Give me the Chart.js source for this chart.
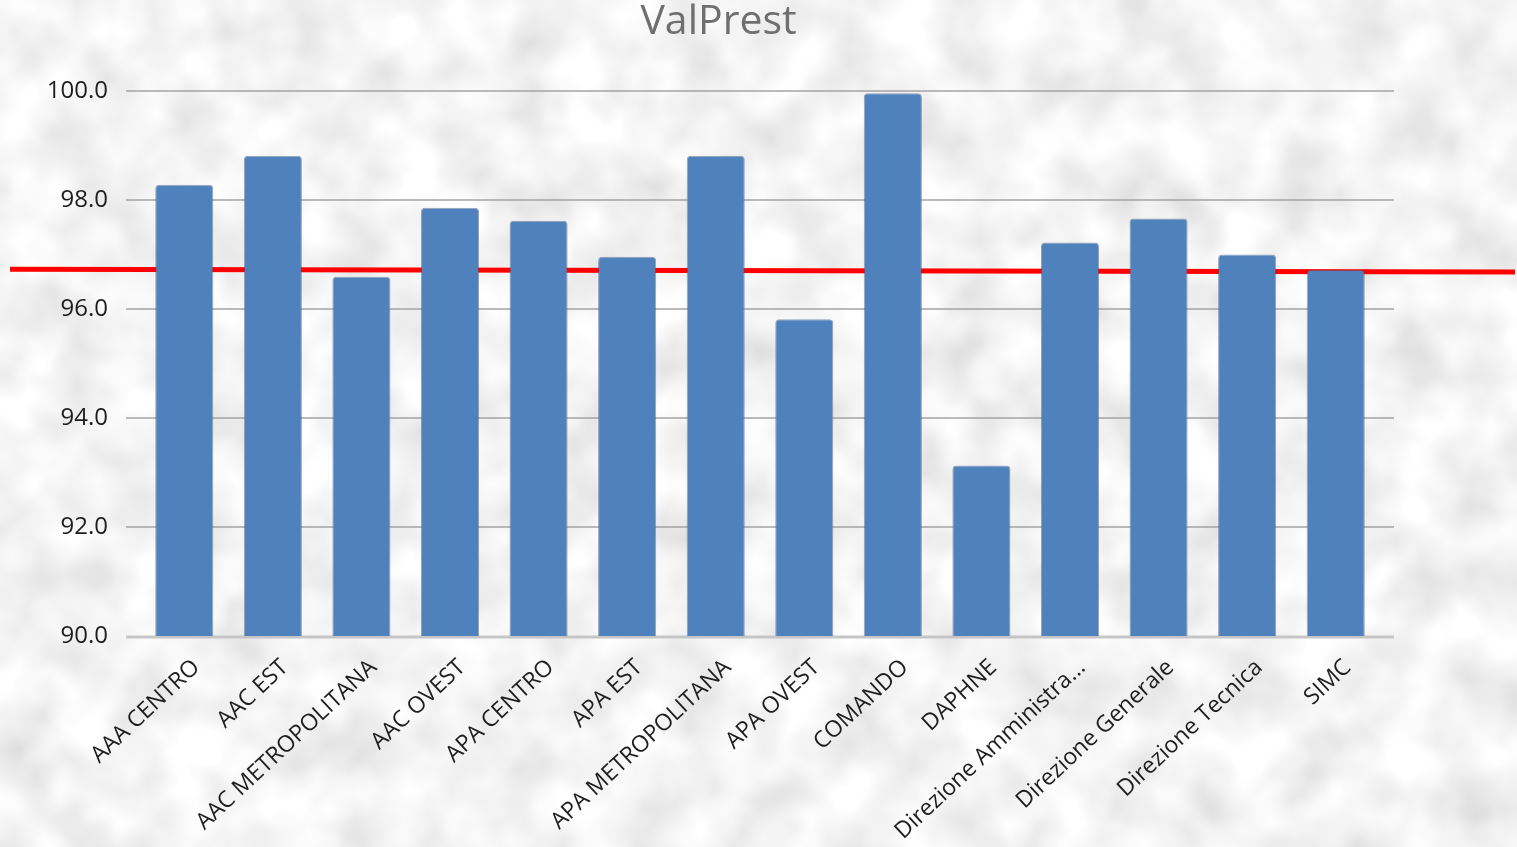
<!DOCTYPE html>
<html>
<head>
<meta charset="utf-8">
<title>ValPrest</title>
<script src="https://cdn.jsdelivr.net/npm/chart.js@4/dist/chart.umd.min.js"></script>
<style>
  html, body { margin: 0; padding: 0; }
  body {
    width: 1517px; height: 847px; overflow: hidden;
    background-color: #e8e8e8;
    background-image: url("data:image/svg+xml;utf8,<svg xmlns='http://www.w3.org/2000/svg' width='1517' height='847'><filter id='n' x='0' y='0' width='100%25' height='100%25'><feTurbulence type='fractalNoise' baseFrequency='0.018' numOctaves='3' seed='7'/><feGaussianBlur stdDeviation='3'/><feColorMatrix type='matrix' values='0.45 0 0 0 0.68  0.45 0 0 0 0.68  0.45 0 0 0 0.68  0 0 0 0 1'/></filter><rect width='100%25' height='100%25' filter='url(%23n)'/></svg>");
  }
  #wrap { position: relative; width: 1517px; height: 847px; }
</style>
</head>
<body>
<div id="wrap"><canvas id="valprest-chart"></canvas></div>
<script>
  'use strict'

  // Dati del grafico
  var chartTitle = 'ValPrest'
  var categories = ['AAA CENTRO', 'AAC EST', 'AAC METROPOLITANA', 'AAC OVEST', 'APA CENTRO', 'APA EST',
    'APA METROPOLITANA', 'APA OVEST', 'COMANDO', 'DAPHNE', 'Direzione Amministra...',
    'Direzione Generale', 'Direzione Tecnica', 'SIMC']
  var valPrest = [98.28, 98.81, 96.59, 97.86, 97.62, 96.96, 98.81, 95.81, 99.96, 93.13, 97.22, 97.66, 97.0, 96.72]
  var yTicks = [90, 92, 94, 96, 98, 100]
  // linea rossa (media), leggermente inclinata come nell'originale
  var redLineStart = 96.73
  var redLineEnd = 96.68

  var fontFamily = '"Open Sans", "Liberation Sans", sans-serif'
  var gridOverhang = 14 // le griglie escono un po' oltre l'area delle barre

  // Griglie orizzontali + asse base, un po' piu' larghe dell'area del grafico
  var gridPlugin = {
    id: 'wideGrid',
    beforeDatasetsDraw: function (chart) {
      var ctx = chart.ctx
      var y = chart.scales.y
      var a = chart.chartArea
      ctx.save()
      yTicks.forEach(function (v, i) {
        var py = y.getPixelForValue(v)
        if (i === 0) {
          ctx.strokeStyle = '#c6c6c6'
          ctx.lineWidth = 3
          py += 1
        } else {
          ctx.strokeStyle = '#a3a3a3'
          ctx.lineWidth = 1.5
        }
        ctx.beginPath()
        ctx.moveTo(a.left - gridOverhang, py)
        ctx.lineTo(a.right + gridOverhang, py)
        ctx.stroke()
      })
      // linea rossa dietro le barre, larga quanto tutto il canvas
      ctx.strokeStyle = '#ff0000'
      ctx.lineWidth = 5
      ctx.beginPath()
      ctx.moveTo(10, y.getPixelForValue(redLineStart))
      ctx.lineTo(chart.width - 2, y.getPixelForValue(redLineEnd))
      ctx.stroke()
      ctx.restore()
    }
  }

  // Titolo disegnato a mano (un po' a sinistra del centro)
  var titlePlugin = {
    id: 'customTitle',
    afterDraw: function (chart) {
      var ctx = chart.ctx
      ctx.save()
      ctx.fillStyle = '#6f6f6f'
      ctx.font = '41px ' + fontFamily
      ctx.textAlign = 'center'
      ctx.textBaseline = 'middle'
      ctx.fillText(chartTitle, chart.width / 2 - 40, 22)
      ctx.restore()
    }
  }

  var ctx = document.getElementById('valprest-chart').getContext('2d')

  var valPrestChart = new Chart(ctx, {
    type: 'bar',
    data: {
      labels: categories,
      datasets: [{
        label: chartTitle,
        data: valPrest,
        backgroundColor: '#4f81bd',
        borderColor: 'rgba(70,90,120,0.55)',
        borderWidth: 1,
        borderSkipped: 'bottom',
        borderRadius: { topLeft: 4, topRight: 4 },
        barPercentage: 0.82,
        categoryPercentage: 0.8
      }]
    },
    options: {
      responsive: true,
      maintainAspectRatio: false,
      animation: false,
      layout: { padding: { top: 91, right: 137, left: 0, bottom: 0 } },
      plugins: {
        legend: { display: false },
        title: { display: false },
        tooltip: { enabled: false }
      },
      scales: {
        x: {
          grid: { display: false },
          border: { display: false },
          ticks: {
            color: '#1e1e1e',
            font: { family: fontFamily, size: 23 },
            maxRotation: 43,
            minRotation: 43,
            autoSkip: false,
            padding: 10,
            labelOffset: 12
          },
          afterFit: function (scale) { scale.height = 211 }
        },
        y: {
          min: yTicks[0],
          max: yTicks[yTicks.length - 1],
          afterBuildTicks: function (scale) {
            scale.ticks = yTicks.map(function (v) { return { value: v } })
          },
          grid: { display: false, drawTicks: false },
          border: { display: false },
          ticks: {
            color: '#1e1e1e',
            font: { family: fontFamily, size: 24 },
            padding: 32,
            callback: function (v) { return Number(v).toFixed(1) }
          },
          afterFit: function (scale) { scale.width = 140 }
        }
      }
    },
    plugins: [gridPlugin, titlePlugin]
  })
</script>
</body>
</html>
